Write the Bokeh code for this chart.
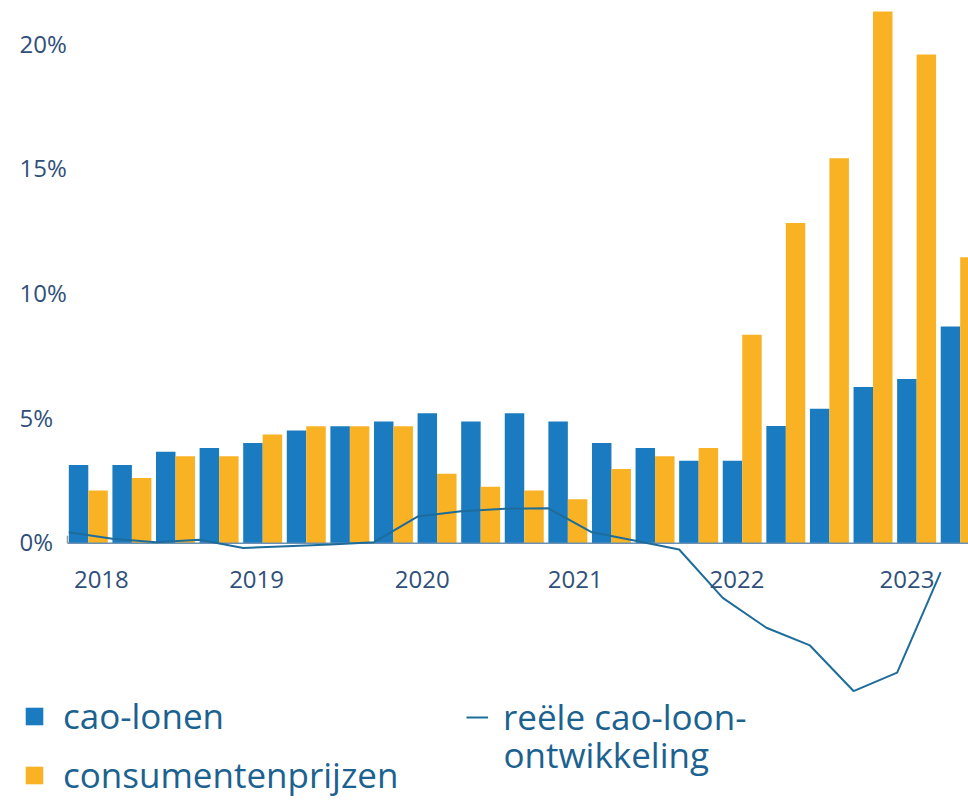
from bokeh.plotting import figure
from bokeh.models import (ColumnDataSource, LabelSet, Label, Legend, LegendItem, Range1d)
from bokeh.core.properties import value
from bokeh.embed import file_html
from bokeh.resources import INLINE

# ---- data ----
quarters = ["2018-K1", "2018-K2", "2018-K3", "2018-K4",
            "2019-K1", "2019-K2", "2019-K3", "2019-K4",
            "2020-K1", "2020-K2", "2020-K3", "2020-K4",
            "2021-K1", "2021-K2", "2021-K3", "2021-K4",
            "2022-K1", "2022-K2", "2022-K3", "2022-K4",
            "2023-K1"]
cao_lonen = [3.14, 3.14, 3.67, 3.82, 4.02, 4.52, 4.69, 4.88, 5.21, 4.88, 5.21,
             4.88, 4.02, 3.82, 3.31, 3.31, 4.70, 5.39, 6.27, 6.59, 8.69]
consumentenprijzen = [2.11, 2.62, 3.49, 3.49, 4.36, 4.69, 4.69, 4.69, 2.79, 2.27, 2.11,
                      1.76, 2.98, 3.49, 3.82, 8.36, 12.85, 15.44, 21.33, 19.60, 11.47]
reele_cao_loon = [0.44, 0.18, 0.04, 0.14, -0.19, -0.12, -0.05, 0.04, 1.07, 1.28, 1.38,
                  1.40, 0.44, 0.10, -0.25, -2.19, -3.39, -4.10, -5.93, -5.19, -1.16]
y_tick_values = [0, 5, 10, 15, 20]
y_tick_labels = ["0%", "5%", "10%", "15%", "20%"]
year_labels = ["2018", "2019", "2020", "2021", "2022", "2023"]

# ---- layout / style settings ----
year_label_pos = [0.30, 3.86, 7.66, 11.17, 14.88, 18.78]   # in quarter-index units
bar_w = 0.447
x_start, x_end = -2.014, 20.19
y_start, y_end = -10.36, 21.77
axis_x0 = -0.477          # where the zero line / axis begins
BLUE = "#1b7bc0"
ORANGE = "#f9b223"
LINE = "#1d6c9a"
TICK_COLOR = "#30507a"
LEGEND_COLOR = "#1b6290"
FONT = "Open Sans"

idx = list(range(len(quarters)))
src = ColumnDataSource(dict(
    q=quarters,
    xb=[i - bar_w / 2 for i in idx],
    xo=[i + bar_w / 2 for i in idx],
    xl=[i - bar_w for i in idx],
    cao=cao_lonen,
    cpi=consumentenprijzen,
    reel=reele_cao_loon,
))

p = figure(width=968, height=801, output_backend="svg", toolbar_location=None,
           x_range=Range1d(x_start, x_end), y_range=Range1d(y_start, y_end),
           x_axis_location=None, y_axis_location=None,
           min_border_left=0, min_border_right=0, min_border_top=0, min_border_bottom=0)
p.outline_line_color = None
p.xgrid.visible = False
p.ygrid.visible = False
p.background_fill_color = "white"

r_cao = p.vbar(x="xb", top="cao", bottom=0, width=bar_w, source=src,
               fill_color=BLUE, line_color=None)
r_cpi = p.vbar(x="xo", top="cpi", bottom=0, width=bar_w, source=src,
               fill_color=ORANGE, line_color=None)

# zero line (x axis) and the small axis stub
p.segment(x0=[axis_x0], y0=[0], x1=[x_end], y1=[0], line_color="#6a90b4", line_width=1.5)
p.segment(x0=[axis_x0], y0=[0], x1=[axis_x0], y1=[0.3], line_color="#9a9a9a", line_width=1.5)

r_line = p.line(x="xl", y="reel", source=src, line_color=LINE, line_width=2)

# y tick labels (left aligned, like the reference)
ysrc = ColumnDataSource(dict(x=[x_start] * len(y_tick_values), y=y_tick_values, t=y_tick_labels))
p.add_layout(LabelSet(x="x", y="y", text="t", source=ysrc, x_offset=19, y_offset=1.5,
                      text_align="left", text_baseline="middle",
                      text_font=value(FONT), text_font_size=value("24px"),
                      text_color=value(TICK_COLOR)))

# year labels under the zero line
xsrc = ColumnDataSource(dict(x=year_label_pos, y=[0] * len(year_labels), t=year_labels))
p.add_layout(LabelSet(x="x", y="y", text="t", source=xsrc, y_offset=-36.3,
                      text_align="center", text_baseline="middle",
                      text_font=value(FONT), text_font_size=value("24px"),
                      text_color=value(TICK_COLOR)))

common = dict(padding=0, margin=0, border_line_alpha=0, background_fill_alpha=0,
              label_text_font=FONT, label_text_font_size="35px",
              label_text_color=LEGEND_COLOR)

legA = Legend(items=[LegendItem(label="cao-lonen", renderers=[r_cao]),
                     LegendItem(label="consumentenprijzen", renderers=[r_cpi])],
              location=(23, 3), orientation="vertical",
              glyph_width=22, glyph_height=22, label_standoff=18, spacing=12,
              **common)
legB = Legend(items=[LegendItem(label="reële cao-loon-", renderers=[r_line])],
              location=(466, 61), orientation="vertical",
              glyph_width=22, glyph_height=18, label_standoff=15, spacing=0,
              **common)
p.add_layout(legA)
p.add_layout(legB)

# second line of the line-series legend label
p.add_layout(Label(x=9.523, y=-8.48, text="ontwikkeling", text_align="left",
                   text_baseline="middle", text_font=FONT, text_font_size="35px",
                   text_color=LEGEND_COLOR))

open("out.html", "w").write(file_html(p, INLINE))
